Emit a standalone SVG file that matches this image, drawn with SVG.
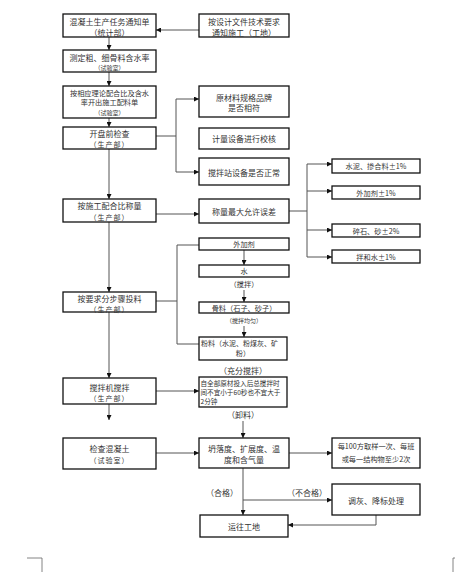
<svg xmlns="http://www.w3.org/2000/svg" width="455" height="572" viewBox="0 0 455 572">
<defs>
<marker id="ah" viewBox="0 0 6 6" refX="6" refY="3" markerWidth="5" markerHeight="5" orient="auto" markerUnits="userSpaceOnUse">
<path d="M0,0 L6,3 L0,6 z" fill="#111"/>
</marker>
<style>
.b{fill:#fff;stroke:#111;stroke-width:1.3}
.c{fill:none;stroke:#555;stroke-width:1}
.a{fill:none;stroke:#555;stroke-width:1;marker-end:url(#ah)}
text{font-family:"Noto Sans CJK SC","Liberation Serif",serif;fill:#333;text-anchor:middle;dominant-baseline:central}
.t{font-size:8px}
.s{font-size:7px;letter-spacing:1px}
.x{font-size:6px}
.e{font-size:7.2px}
.l{font-size:7px;text-anchor:start}
.m{font-size:6.6px;text-anchor:start}
</style>
</defs>
<rect width="455" height="572" fill="#fff"/>

<g id="connectors">
<path class="a" d="M199,30 H156"/>
<path class="a" d="M109,37 V50"/>
<path class="a" d="M109,72 V86"/>
<path class="a" d="M109,118 V127"/>
<path class="c" d="M156,136 H176"/>
<path class="c" d="M176,99 V172"/>
<path class="a" d="M176,99 H199"/>
<path class="a" d="M176,172 H199"/>
<path class="a" d="M109,149 V199"/>
<path class="a" d="M156,214 H199"/>
<path class="c" d="M289,211 H307"/>
<path class="c" d="M307,164 V257"/>
<path class="a" d="M307,164 H332"/>
<path class="a" d="M307,191 H332"/>
<path class="a" d="M307,230 H332"/>
<path class="a" d="M307,257 H332"/>
<path class="a" d="M109,222 V292"/>
<path class="c" d="M156,301 H177"/>
<path class="c" d="M177,245 V344"/>
<path class="c" d="M177,245 H199"/>
<path class="c" d="M177,344 H199"/>
<path class="a" d="M244,250 V265"/>
<path class="a" d="M244,290 V302"/>
<path class="a" d="M244,326 V337"/>
<path class="a" d="M109,312 V378"/>
<path class="a" d="M156,391 H199"/>
<path class="a" d="M109,404 V420"/>
<path class="a" d="M243,421 V438"/>
<path class="a" d="M156,453 H199"/>
<path class="a" d="M289,453 H332"/>
<path class="a" d="M243,468 V515"/>
<path class="a" d="M243,500 H332"/>
<path class="a" d="M376,515 V525 H288"/>
</g>

<g id="n1"><rect class="b" x="63" y="14" width="93" height="23"/><text class="t" x="109.5" y="21">混凝土生产任务通知单</text><text class="t" x="109.5" y="32">（统计部）</text></g>
<g id="n2"><rect class="b" x="199" y="14" width="90" height="23"/><text class="t" x="244" y="21">按设计文件技术要求</text><text class="t" x="244" y="32">通知施工（工地）</text></g>
<g id="n3"><rect class="b" x="63" y="50" width="93" height="22"/><text class="t" x="109.5" y="57">测定粗、细骨料含水率</text><text class="x" x="109.5" y="67.5">（试验室）</text></g>
<g id="n4"><rect class="b" x="63" y="86" width="93" height="32"/><text class="e" x="109.5" y="93">按相应理论配合比及含水</text><text class="e" x="109.5" y="102">率开出施工配料单</text><text class="x" x="109.5" y="112">（试验室）</text></g>
<g id="n5"><rect class="b" x="199" y="86" width="90" height="31"/><text class="t" x="244" y="97">原材料规格品牌</text><text class="t" x="244" y="107">是否相符</text></g>
<g id="n6"><rect class="b" x="63" y="127" width="93" height="22"/><text class="t" x="109.5" y="133">开盘前检查</text><text class="s" x="109.5" y="144">（生产部）</text></g>
<g id="n7"><rect class="b" x="199" y="128" width="90" height="21"/><text class="t" x="244" y="138.5">计量设备进行校核</text></g>
<g id="n8"><rect class="b" x="199" y="158" width="90" height="27"/><text class="t" x="244" y="172">搅拌站设备是否正常</text></g>
<g id="n9"><rect class="b" x="63" y="199" width="93" height="23"/><text class="t" x="109.5" y="205">按施工配合比称量</text><text class="s" x="109.5" y="217">（生产部）</text></g>
<g id="n10"><rect class="b" x="199" y="199" width="90" height="24"/><text class="t" x="244" y="211">称量最大允许误差</text></g>
<g id="n11"><rect class="b" x="332" y="159" width="88" height="14"/><text class="e" x="376" y="166">水泥、掺合料±1%</text></g>
<g id="n12"><rect class="b" x="332" y="186" width="88" height="13"/><text class="e" x="376" y="192.5">外加剂±1%</text></g>
<g id="n13"><rect class="b" x="332" y="224" width="88" height="13"/><text class="e" x="376" y="230.5">碎石、砂±2%</text></g>
<g id="n14"><rect class="b" x="332" y="250" width="88" height="13"/><text class="e" x="376" y="256.5">拌和水±1%</text></g>
<g id="n15"><rect class="b" x="199" y="238" width="90" height="12"/><text class="e" x="244" y="244">外加剂</text></g>
<g id="n16"><rect class="b" x="199" y="265" width="90" height="12"/><text class="e" x="244" y="271">水</text></g>
<text class="e" x="244" y="284">（搅拌）</text>
<g id="n17"><rect class="b" x="199" y="302" width="90" height="11"/><text class="e" x="244" y="307.5">骨料（石子、砂子）</text></g>
<text class="x" x="244" y="320">（搅拌均匀）</text>
<g id="n18"><rect class="b" x="199" y="337" width="88" height="23"/><text class="l" x="201" y="343">粉料（水泥、粉煤灰、矿</text><text class="e" x="243" y="352.5">粉）</text></g>
<g id="n19"><rect class="b" x="63" y="292" width="93" height="20"/><text class="t" x="109.5" y="298">按要求分步骤投料</text><text class="s" x="109.5" y="308.5">（生产部）</text></g>
<text class="t" x="243" y="370">（充分搅拌）</text>
<g id="n20"><rect class="b" x="63" y="378" width="93" height="26"/><text class="t" x="109.5" y="387">搅拌机搅拌</text><text class="s" x="109.5" y="398">（生产部）</text></g>
<g id="n21"><rect class="b" x="199" y="377" width="88" height="30"/><text class="m" x="200.5" y="383">自全部原材投入后总搅拌时</text><text class="m" x="200.5" y="392">间不宜小于60秒也不宜大于</text><text class="m" x="200.5" y="401">2分钟</text></g>
<text class="t" x="243" y="414">（卸料）</text>
<g id="n22"><rect class="b" x="63" y="438" width="93" height="31"/><text class="t" x="109.5" y="448">检查混凝土</text><text class="s" x="109.5" y="460">（试验室）</text></g>
<g id="n23"><rect class="b" x="199" y="438" width="90" height="30"/><text class="t" x="244" y="448">坍落度、扩展度、温</text><text class="t" x="244" y="459.5">度和含气量</text></g>
<g id="n24"><rect class="b" x="332" y="438" width="88" height="30"/><text class="e" x="376" y="446">每100方取样一次、每班</text><text class="e" x="376" y="459">或每一结构物至少2次</text></g>
<text class="t" x="222" y="492">（合格）</text>
<text class="t" x="307" y="492">（不合格）</text>
<g id="n25"><rect class="b" x="332" y="484" width="88" height="31"/><text class="t" x="376" y="500">调灰、降标处理</text></g>
<g id="n26"><rect class="b" x="200" y="515" width="88" height="22"/><text class="t" x="244" y="526">运往工地</text></g>

<path d="M27,558 H42 V572 M453,572 V558 H455" fill="none" stroke="#666" stroke-width="0.8"/>
</svg>
